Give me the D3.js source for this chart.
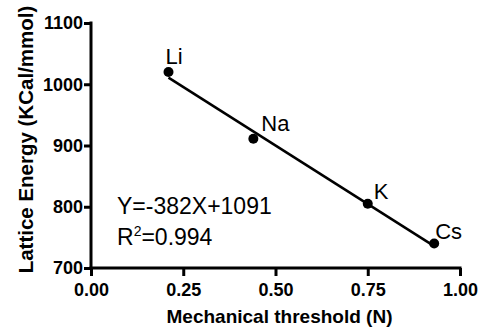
<!DOCTYPE html>
<html><head><meta charset="utf-8">
<script src="https://cdn.jsdelivr.net/npm/d3@7"></script>
<style>
html,body{margin:0;padding:0;background:#fff;}
svg{display:block;font-family:"Liberation Sans",Arial,sans-serif;}
</style></head>
<body>
<svg id="chart" width="479" height="327"></svg>
<script>
// ---- data ----
const ions = ["Li", "Na", "K", "Cs"];
const threshold = [0.21, 0.44, 0.75, 0.93];
const latticeEnergy = [1020, 911, 805, 740];
const fitSlope = -382;
const fitIntercept = 1091;
const fitR2 = 0.994;
const xTicks = [0, 0.25, 0.5, 0.75, 1.0];
const yTicks = [700, 800, 900, 1000, 1100];

// ---- layout ----
const W = 479, H = 327;
const m = {left: 91, top: 23, right: 19, bottom: 59};
const labelOffset = {Li: [-3, -8], Na: [8, -8], K: [6, -5], Cs: [1, -5]};

const svg = d3.select("#chart");
const x = d3.scaleLinear().domain([0, 1]).range([m.left, W - m.right]);
const y = d3.scaleLinear().domain([700, 1100]).range([H - m.bottom, m.top]);

const xAxis = svg.append("g").attr("transform", `translate(0,${H - m.bottom})`)
  .call(d3.axisBottom(x).tickValues(xTicks).tickFormat(d3.format(".2f")).tickSize(8).tickSizeOuter(0).tickPadding(7));
const yAxis = svg.append("g").attr("transform", `translate(${m.left},0)`)
  .call(d3.axisLeft(y).tickValues(yTicks).tickFormat(d3.format("d")).tickSize(7).tickSizeOuter(0).tickPadding(1));

[xAxis, yAxis].forEach(g => {
  g.select(".domain").attr("stroke", "#000").attr("stroke-width", 3);
  g.selectAll(".tick line").attr("stroke", "#000").attr("stroke-width", 3);
  g.selectAll(".tick text").attr("fill", "#000").attr("font-size", 18).attr("font-weight", "bold")
    .attr("font-family", '"Liberation Sans",Arial,sans-serif');
});
xAxis.select(".domain").attr("d", `M${m.left - 1.5},0H${W - m.right + 1.5}`);
yAxis.select(".domain").attr("d", `M0,${H - m.bottom + 1.5}V${m.top - 1.5}`);

// axis titles
svg.append("text").attr("x", (m.left + W - m.right) / 2 + 4).attr("y", 323)
  .attr("text-anchor", "middle").attr("font-size", 19).attr("font-weight", "bold")
  .text("Mechanical threshold (N)");
svg.append("text").attr("transform", `translate(33,${(m.top + H - m.bottom) / 2 - 6}) rotate(-90)`)
  .attr("text-anchor", "middle").attr("font-size", 20.5).attr("font-weight", "bold")
  .text("Lattice Energy (KCal/mmol)");

// regression line
const x0 = d3.min(threshold), x1 = d3.max(threshold);
svg.append("line")
  .attr("x1", x(x0)).attr("y1", y(fitSlope * x0 + fitIntercept))
  .attr("x2", x(x1)).attr("y2", y(fitSlope * x1 + fitIntercept))
  .attr("stroke", "#000").attr("stroke-width", 2.5);

// points
const pts = ions.map((n, i) => ({name: n, x: threshold[i], y: latticeEnergy[i]}));
svg.selectAll("circle.pt").data(pts).join("circle").attr("class", "pt")
  .attr("cx", d => x(d.x)).attr("cy", d => y(d.y)).attr("r", 5).attr("fill", "#000");
svg.selectAll("text.lbl").data(pts).join("text").attr("class", "lbl")
  .attr("x", d => x(d.x) + labelOffset[d.name][0])
  .attr("y", d => y(d.y) + labelOffset[d.name][1])
  .attr("font-size", 22).text(d => d.name);

// equation
svg.append("text").attr("x", 117).attr("y", 214).attr("font-size", 23)
  .text(`Y=${fitSlope}X+${fitIntercept}`);
const r2 = svg.append("text").attr("x", 117).attr("y", 245).attr("font-size", 23);
r2.append("tspan").text("R");
r2.append("tspan").attr("font-size", 14).attr("dy", -9).text("2");
r2.append("tspan").attr("dy", 9).text(`=${fitR2}`);
</script>
</body></html>
